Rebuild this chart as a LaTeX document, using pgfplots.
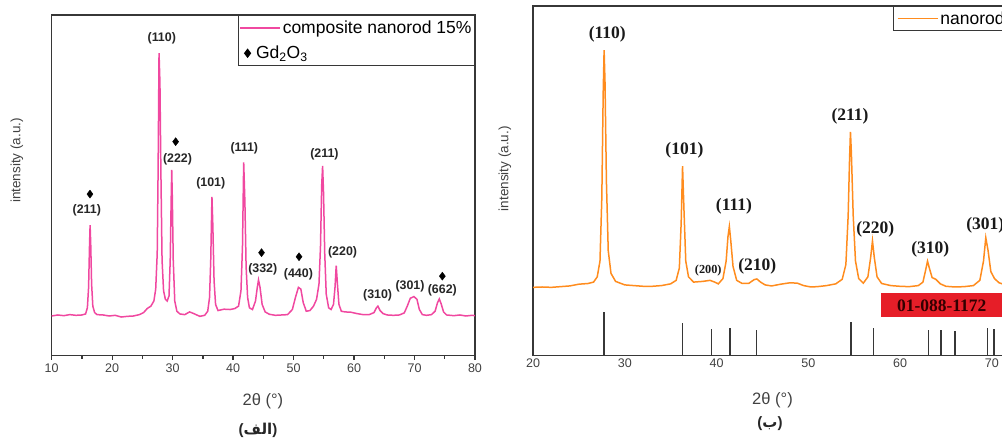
\documentclass[border=0pt]{standalone}
\usepackage{pgfplots}
\pgfplotsset{compat=1.18}
\usepackage{fontspec}
\setmainfont{Liberation Sans}
\newfontfamily\timesf{Liberation Serif}
\newfontfamily\arabicfont[Script=Arabic]{DejaVu Sans}
\TeXXeTstate=1

\definecolor{xrdpink}{RGB}{240,72,160}
\definecolor{xrdorange}{RGB}{255,140,30}
\definecolor{axgray}{RGB}{55,55,55}
\definecolor{txtgray}{RGB}{65,65,65}
\definecolor{pdfred}{RGB}{230,30,40}

\tikzset{
  peakL/.style={font=\fontsize{12.4}{14}\bfseries\selectfont, text=black!85},
  peakR/.style={font=\fontsize{17.5}{19}\timesf\bfseries\selectfont, text=black!90},
  capt/.style={font=\fontsize{15}{17}\bfseries\selectfont, text=black!85},
}

\pgfplotsset{
  xrd/.style={
    scale only axis, anchor=south west,
    ymin=0, ymax=100, ytick=\empty,
    axis line style={draw=axgray, line width=1.4pt},
    tick style={draw=axgray, line width=1.3pt},
    xtick pos=left, tick align=outside,
    /pgf/number format/assume math mode=true,
    xticklabel style={font=\fontsize{12.5}{14}\selectfont, text=txtgray},
    xlabel={2θ (°)},
    ylabel={intensity (a.u.)},
    legend cell align=left,
  },
  lineleg/.style={legend image code/.code={\draw[##1] (0pt,0pt) -- (40pt,0pt);}},
  diamleg/.style={legend image code/.code={\draw[##1] plot coordinates {(7.6pt,0pt)};}},
}

\begin{document}
\begin{tikzpicture}
\path[use as bounding box] (0pt,0pt) rectangle (1002pt,438pt);
\clip (0pt,0pt) rectangle (1002pt,438pt);

% ---- left panel (alef)
\begin{axis}[xrd,
  at={(51.7pt,82.5pt)}, width=423.3pt, height=340.5pt,
  xmin=10, xmax=80,
  xtick={10,20,...,80}, minor x tick num=1,
  major tick length=4.5pt, minor tick length=3.5pt,
  xlabel style={at={(rel axis cs:0.499,-0.1357)}, anchor=center, font=\fontsize{16.5}{18}\selectfont, text=txtgray},
  ylabel style={at={(rel axis cs:-0.082,0.573)}, anchor=center, font=\fontsize{13.5}{15}\selectfont, text=txtgray},
  legend style={at={(rel axis cs:1,1)}, anchor=north east, draw=axgray, line width=1pt,
    font=\fontsize{17.5}{19}\selectfont, inner xsep=1pt, inner ysep=3.5pt, row sep=7pt},
]
\addplot[color=xrdpink, line width=1.5pt, lineleg] coordinates {
  (10,11.6) (11,11.9) (12,11.7) (13,12.0) (14,11.8) (15,11.9) (15.6,12.2)
  (15.9,14.0) (16.1,20.0) (16.25,32.0) (16.35,38.3) (16.45,33.0) (16.6,21.0)
  (16.8,14.5) (17.1,12.6) (17.5,12.0) (18.5,11.9) (19.5,11.6) (20.5,11.8)
  (21.5,11.3) (22.5,11.5) (23.5,11.6) (24.5,12.0) (25.2,12.6) (25.8,13.8)
  (26.4,14.5) (26.9,16.0) (27.2,19.5) (27.45,30.0) (27.6,55.0) (27.75,88.8)
  (27.9,80.0) (28.05,55.0) (28.25,28.0) (28.5,19.0) (28.8,16.5) (29.1,16.0)
  (29.4,17.5) (29.6,28.0) (29.75,45.0) (29.85,54.5) (29.95,46.0) (30.1,28.0)
  (30.35,16.0) (30.7,13.0) (31.2,12.2) (32,12.0) (32.8,12.8) (33.5,12.3)
  (34.5,11.5) (35.3,11.8) (35.8,13.0) (36.1,17.0) (36.3,28.0) (36.5,46.6)
  (36.65,38.0) (36.85,22.0) (37.1,15.0) (37.5,13.2) (38.5,13.6) (39.5,13.5)
  (40.3,13.8) (40.9,14.5) (41.3,19.0) (41.55,32.0) (41.75,56.7) (41.95,45.0)
  (42.15,26.0) (42.4,17.0) (42.7,14.0) (43.2,13.5) (43.7,16.0) (44.0,20.0)
  (44.2,22.2) (44.45,20.0) (44.8,15.0) (45.3,12.8) (46,12.1) (47,11.8)
  (48,11.9) (49,12.0) (49.8,13.5) (50.3,17.0) (50.8,20.0) (51.2,19.5)
  (51.6,15.5) (52.1,13.0) (52.7,13.2) (53.3,14.5) (53.8,16.5) (54.2,21.0)
  (54.45,32.0) (54.65,50.0) (54.8,55.7) (54.95,48.0) (55.15,30.0) (55.4,18.0)
  (55.8,14.0) (56.2,13.5) (56.6,15.0) (56.85,20.0) (57.05,26.4) (57.25,21.0)
  (57.5,15.0) (57.9,13.0) (58.5,12.8) (59.5,12.7) (60.5,12.3) (61.5,12.0)
  (62.5,12.0) (63.3,12.6) (63.7,14.0) (63.95,14.5) (64.3,13.2) (64.8,12.3)
  (65.5,11.9) (66.5,11.8) (67.5,11.9) (68.3,12.5) (68.8,14.5) (69.3,16.8)
  (69.9,17.3) (70.4,16.5) (70.8,13.5) (71.3,12.0) (72,11.8) (72.8,12.0)
  (73.4,13.0) (73.8,15.5) (74.1,16.6) (74.4,15.2) (74.8,12.8) (75.3,11.9)
  (76.5,11.7) (77.5,11.9) (78.5,11.6) (79.5,11.8) (80,11.7)
};
\addlegendentry{composite nanorod 15\%}
\addplot[only marks, mark=diamond*, mark size=4pt, color=black, diamleg] coordinates {
  (16.33,47.4) (30.5,62.8) (44.7,30.2) (50.9,29.0) (74.6,23.3)
};
\addlegendentry{\hspace*{-26.7pt}Gd\textsubscript{2}O\textsubscript{3}}

\node[peakL] at (axis cs:15.8,42.7) {(211)};
\node[peakL] at (axis cs:28.2,93.3) {(110)};
\node[peakL] at (axis cs:30.8,57.6) {(222)};
\node[peakL] at (axis cs:36.3,50.6) {(101)};
\node[peakL] at (axis cs:41.85,60.9) {(111)};
\node[peakL] at (axis cs:55.1,59.1) {(211)};
\node[peakL] at (axis cs:44.9,25.4) {(332)};
\node[peakL] at (axis cs:50.8,23.9) {(440)};
\node[peakL] at (axis cs:58.1,30.3) {(220)};
\node[peakL] at (axis cs:63.9,17.8) {(310)};
\node[peakL] at (axis cs:69.25,20.4) {(301)};
\node[peakL] at (axis cs:74.6,19.2) {(662)};
\end{axis}

% ---- right panel (be)
\begin{axis}[xrd,
  at={(533pt,82.5pt)}, width=477.1pt, height=349.5pt,
  xmin=20, xmax=72,
  xtick={20,30,...,70}, major tick length=0pt,
  xlabel style={at={(rel axis cs:0.502,-0.129)}, anchor=center, font=\fontsize{16.5}{18}\selectfont, text=txtgray},
  ylabel style={at={(rel axis cs:-0.0587,0.534)}, anchor=center, font=\fontsize{13.5}{15}\selectfont, text=txtgray},
  legend style={at={(rel axis cs:1,1)}, anchor=north east, draw=axgray, line width=1pt,
    font=\fontsize{17.5}{19}\selectfont, inner xsep=3pt, inner ysep=3pt},
]
\addplot[color=xrdorange, line width=1.5pt, lineleg] coordinates {
  (20,19.5) (21,19.6) (22,19.5) (23,19.7) (24,19.9) (25,20.4) (26,20.6)
  (26.6,21.0) (27.0,22.5) (27.3,27.0) (27.5,45.0) (27.65,75.0) (27.75,87.4)
  (27.85,78.0) (28.0,50.0) (28.2,30.0) (28.5,23.5) (29.0,21.2) (30,20.2)
  (31,20.0) (32,19.8) (33,19.8) (34,20.0) (35,20.5) (35.6,21.5) (35.95,25.0)
  (36.15,38.0) (36.3,54.2) (36.45,42.0) (36.65,27.0) (36.95,22.5) (37.5,21.0)
  (38.5,21.2) (39.3,21.5) (39.8,21.0) (40.2,20.5) (40.7,22.0) (41.05,27.0)
  (41.25,34.0) (41.4,36.9) (41.55,33.0) (41.8,25.5) (42.2,21.5) (42.8,20.6)
  (43.5,20.6) (44.1,21.7) (44.4,21.9) (44.8,21.0) (45.3,20.2) (46,19.9)
  (47,20.4) (48,20.8) (48.8,20.7) (49.5,20.0) (50.3,19.6) (51,19.7) (52,20.0)
  (53,20.5) (53.7,21.8) (54.1,26.0) (54.35,40.0) (54.5,56.0) (54.6,64.0)
  (54.7,58.0) (54.9,40.0) (55.15,27.0) (55.5,22.0) (56.0,20.7) (56.5,22.5)
  (56.8,28.0) (57.0,32.8) (57.2,28.0) (57.5,22.5) (58,20.6) (59,20.0)
  (60,19.8) (61,19.7) (62,20.0) (62.5,21.0) (62.8,24.5) (63.0,27.0)
  (63.2,25.0) (63.5,22.3) (63.9,21.8) (64.4,20.5) (65,19.8) (66,19.6)
  (67,19.7) (68,20.0) (68.7,21.5) (69.1,27.0) (69.35,33.7) (69.6,30.0)
  (69.9,24.0) (70.3,22.0) (70.8,20.8) (71.5,20.2) (72,19.9)
};
\addlegendentry{nanorod}
\addplot[ycomb, draw=axgray, line width=1.4pt, forget plot] coordinates {
  (27.74,12.5) (36.32,9.4) (39.43,7.5) (41.47,8.0) (44.38,7.3) (54.65,9.7)
  (57.09,7.8) (63.08,7.3) (64.47,7.3) (65.99,7.0) (69.51,8.0) (70.24,7.5)
};
\fill[pdfred] (axis cs:57.9,10.9) rectangle (axis cs:71.2,17.8);
\node[peakR, text=black!80!red] at (axis cs:64.55,14.35) {01-088-1172};

\node[peakR] at (axis cs:28.1,92.0) {(110)};
\node[peakR] at (axis cs:36.5,58.8) {(101)};
\node[peakR] at (axis cs:41.9,42.6) {(111)};
\node[peakR] at (axis cs:54.55,68.3) {(211)};
\node[peakR, font=\fontsize{12.3}{14}\timesf\bfseries\selectfont] at (axis cs:39.1,24.2) {(200)};
\node[peakR] at (axis cs:44.45,25.6) {(210)};
\node[peakR] at (axis cs:57.3,36.1) {(220)};
\node[peakR] at (axis cs:63.3,30.4) {(310)};
\node[peakR] at (axis cs:69.3,37.3) {(301)};
\end{axis}

% sub-figure captions
\node[capt] at (258pt,8pt) {({\arabicfont\bfseries\beginR الف\endR})};
\node[capt] at (770pt,14.7pt) {({\arabicfont\bfseries\beginR ب\endR})};
\end{tikzpicture}
\end{document}
